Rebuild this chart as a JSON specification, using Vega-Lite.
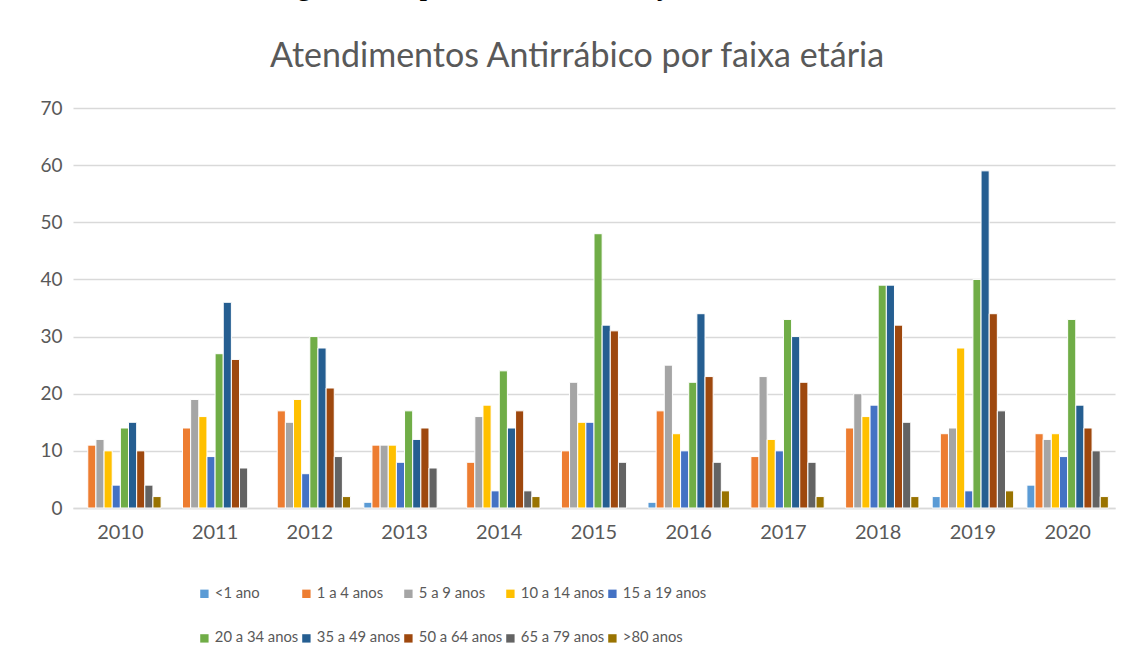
{
  "$schema": "https://vega.github.io/schema/vega-lite/v6.json",
  "width": 1042,
  "height": 400,
  "autosize": {"type": "none"},
  "padding": {"left": 73, "top": 108, "right": 15, "bottom": 157},
  "background": "white",
  "title": {
    "text": "Jaguariaíva por ano de notificação e Faixa Etária.",
    "subtitle": "Atendimentos Antirrábico por faixa etária",
    "anchor": "middle",
    "frame": "group",
    "dx": -17,
    "offset": 24,
    "font": "Liberation Serif",
    "fontSize": 31,
    "fontWeight": "normal",
    "color": "#000000",
    "subtitleFont": "Lato",
    "subtitleFontSize": 34,
    "subtitleColor": "#595959",
    "subtitlePadding": 39
  },
  "data": {
    "values": [
      {"ano": "2010", "faixa": "<1 ano", "n": 0}, {"ano": "2010", "faixa": "1 a 4 anos", "n": 11}, {"ano": "2010", "faixa": "5 a 9 anos", "n": 12}, {"ano": "2010", "faixa": "10 a 14 anos", "n": 10}, {"ano": "2010", "faixa": "15 a 19 anos", "n": 4}, {"ano": "2010", "faixa": "20 a 34 anos", "n": 14}, {"ano": "2010", "faixa": "35 a 49 anos", "n": 15}, {"ano": "2010", "faixa": "50 a 64 anos", "n": 10}, {"ano": "2010", "faixa": "65 a 79 anos", "n": 4}, {"ano": "2010", "faixa": ">80 anos", "n": 2},
      {"ano": "2011", "faixa": "<1 ano", "n": 0}, {"ano": "2011", "faixa": "1 a 4 anos", "n": 14}, {"ano": "2011", "faixa": "5 a 9 anos", "n": 19}, {"ano": "2011", "faixa": "10 a 14 anos", "n": 16}, {"ano": "2011", "faixa": "15 a 19 anos", "n": 9}, {"ano": "2011", "faixa": "20 a 34 anos", "n": 27}, {"ano": "2011", "faixa": "35 a 49 anos", "n": 36}, {"ano": "2011", "faixa": "50 a 64 anos", "n": 26}, {"ano": "2011", "faixa": "65 a 79 anos", "n": 7}, {"ano": "2011", "faixa": ">80 anos", "n": 0},
      {"ano": "2012", "faixa": "<1 ano", "n": 0}, {"ano": "2012", "faixa": "1 a 4 anos", "n": 17}, {"ano": "2012", "faixa": "5 a 9 anos", "n": 15}, {"ano": "2012", "faixa": "10 a 14 anos", "n": 19}, {"ano": "2012", "faixa": "15 a 19 anos", "n": 6}, {"ano": "2012", "faixa": "20 a 34 anos", "n": 30}, {"ano": "2012", "faixa": "35 a 49 anos", "n": 28}, {"ano": "2012", "faixa": "50 a 64 anos", "n": 21}, {"ano": "2012", "faixa": "65 a 79 anos", "n": 9}, {"ano": "2012", "faixa": ">80 anos", "n": 2},
      {"ano": "2013", "faixa": "<1 ano", "n": 1}, {"ano": "2013", "faixa": "1 a 4 anos", "n": 11}, {"ano": "2013", "faixa": "5 a 9 anos", "n": 11}, {"ano": "2013", "faixa": "10 a 14 anos", "n": 11}, {"ano": "2013", "faixa": "15 a 19 anos", "n": 8}, {"ano": "2013", "faixa": "20 a 34 anos", "n": 17}, {"ano": "2013", "faixa": "35 a 49 anos", "n": 12}, {"ano": "2013", "faixa": "50 a 64 anos", "n": 14}, {"ano": "2013", "faixa": "65 a 79 anos", "n": 7}, {"ano": "2013", "faixa": ">80 anos", "n": 0},
      {"ano": "2014", "faixa": "<1 ano", "n": 0}, {"ano": "2014", "faixa": "1 a 4 anos", "n": 8}, {"ano": "2014", "faixa": "5 a 9 anos", "n": 16}, {"ano": "2014", "faixa": "10 a 14 anos", "n": 18}, {"ano": "2014", "faixa": "15 a 19 anos", "n": 3}, {"ano": "2014", "faixa": "20 a 34 anos", "n": 24}, {"ano": "2014", "faixa": "35 a 49 anos", "n": 14}, {"ano": "2014", "faixa": "50 a 64 anos", "n": 17}, {"ano": "2014", "faixa": "65 a 79 anos", "n": 3}, {"ano": "2014", "faixa": ">80 anos", "n": 2},
      {"ano": "2015", "faixa": "<1 ano", "n": 0}, {"ano": "2015", "faixa": "1 a 4 anos", "n": 10}, {"ano": "2015", "faixa": "5 a 9 anos", "n": 22}, {"ano": "2015", "faixa": "10 a 14 anos", "n": 15}, {"ano": "2015", "faixa": "15 a 19 anos", "n": 15}, {"ano": "2015", "faixa": "20 a 34 anos", "n": 48}, {"ano": "2015", "faixa": "35 a 49 anos", "n": 32}, {"ano": "2015", "faixa": "50 a 64 anos", "n": 31}, {"ano": "2015", "faixa": "65 a 79 anos", "n": 8}, {"ano": "2015", "faixa": ">80 anos", "n": 0},
      {"ano": "2016", "faixa": "<1 ano", "n": 1}, {"ano": "2016", "faixa": "1 a 4 anos", "n": 17}, {"ano": "2016", "faixa": "5 a 9 anos", "n": 25}, {"ano": "2016", "faixa": "10 a 14 anos", "n": 13}, {"ano": "2016", "faixa": "15 a 19 anos", "n": 10}, {"ano": "2016", "faixa": "20 a 34 anos", "n": 22}, {"ano": "2016", "faixa": "35 a 49 anos", "n": 34}, {"ano": "2016", "faixa": "50 a 64 anos", "n": 23}, {"ano": "2016", "faixa": "65 a 79 anos", "n": 8}, {"ano": "2016", "faixa": ">80 anos", "n": 3},
      {"ano": "2017", "faixa": "<1 ano", "n": 0}, {"ano": "2017", "faixa": "1 a 4 anos", "n": 9}, {"ano": "2017", "faixa": "5 a 9 anos", "n": 23}, {"ano": "2017", "faixa": "10 a 14 anos", "n": 12}, {"ano": "2017", "faixa": "15 a 19 anos", "n": 10}, {"ano": "2017", "faixa": "20 a 34 anos", "n": 33}, {"ano": "2017", "faixa": "35 a 49 anos", "n": 30}, {"ano": "2017", "faixa": "50 a 64 anos", "n": 22}, {"ano": "2017", "faixa": "65 a 79 anos", "n": 8}, {"ano": "2017", "faixa": ">80 anos", "n": 2},
      {"ano": "2018", "faixa": "<1 ano", "n": 0}, {"ano": "2018", "faixa": "1 a 4 anos", "n": 14}, {"ano": "2018", "faixa": "5 a 9 anos", "n": 20}, {"ano": "2018", "faixa": "10 a 14 anos", "n": 16}, {"ano": "2018", "faixa": "15 a 19 anos", "n": 18}, {"ano": "2018", "faixa": "20 a 34 anos", "n": 39}, {"ano": "2018", "faixa": "35 a 49 anos", "n": 39}, {"ano": "2018", "faixa": "50 a 64 anos", "n": 32}, {"ano": "2018", "faixa": "65 a 79 anos", "n": 15}, {"ano": "2018", "faixa": ">80 anos", "n": 2},
      {"ano": "2019", "faixa": "<1 ano", "n": 2}, {"ano": "2019", "faixa": "1 a 4 anos", "n": 13}, {"ano": "2019", "faixa": "5 a 9 anos", "n": 14}, {"ano": "2019", "faixa": "10 a 14 anos", "n": 28}, {"ano": "2019", "faixa": "15 a 19 anos", "n": 3}, {"ano": "2019", "faixa": "20 a 34 anos", "n": 40}, {"ano": "2019", "faixa": "35 a 49 anos", "n": 59}, {"ano": "2019", "faixa": "50 a 64 anos", "n": 34}, {"ano": "2019", "faixa": "65 a 79 anos", "n": 17}, {"ano": "2019", "faixa": ">80 anos", "n": 3},
      {"ano": "2020", "faixa": "<1 ano", "n": 4}, {"ano": "2020", "faixa": "1 a 4 anos", "n": 13}, {"ano": "2020", "faixa": "5 a 9 anos", "n": 12}, {"ano": "2020", "faixa": "10 a 14 anos", "n": 13}, {"ano": "2020", "faixa": "15 a 19 anos", "n": 9}, {"ano": "2020", "faixa": "20 a 34 anos", "n": 33}, {"ano": "2020", "faixa": "35 a 49 anos", "n": 18}, {"ano": "2020", "faixa": "50 a 64 anos", "n": 14}, {"ano": "2020", "faixa": "65 a 79 anos", "n": 10}, {"ano": "2020", "faixa": ">80 anos", "n": 2}
    ]
  },
  "transform": [{"filter": "datum.n > 0"}],
  "mark": {"type": "bar", "stroke": "white", "strokeWidth": 1},
  "encoding": {
    "x": {
      "field": "ano",
      "type": "nominal",
      "scale": {"paddingInner": 0.14, "paddingOuter": 0.07},
      "axis": {
        "title": null,
        "labelAngle": 0,
        "labelFont": "Lato",
        "labelFontSize": 20,
        "labelColor": "#595959",
        "labelPadding": 14,
        "ticks": false,
        "domainColor": "#D9D9D9",
        "domainWidth": 1.5
      }
    },
    "xOffset": {
      "field": "faixa",
      "type": "nominal",
      "sort": ["<1 ano", "1 a 4 anos", "5 a 9 anos", "10 a 14 anos", "15 a 19 anos", "20 a 34 anos", "35 a 49 anos", "50 a 64 anos", "65 a 79 anos", ">80 anos"],
      "scale": {"paddingInner": 0, "paddingOuter": 0}
    },
    "y": {
      "field": "n",
      "type": "quantitative",
      "scale": {"domain": [0, 70], "nice": false},
      "axis": {
        "title": null,
        "values": [0, 10, 20, 30, 40, 50, 60, 70],
        "domain": false,
        "ticks": false,
        "labelFont": "Lato",
        "labelFontSize": 19,
        "labelColor": "#595959",
        "labelPadding": 11,
        "gridColor": "#D9D9D9",
        "gridWidth": 1.5
      }
    },
    "color": {
      "field": "faixa",
      "type": "nominal",
      "scale": {
        "domain": ["<1 ano", "1 a 4 anos", "5 a 9 anos", "10 a 14 anos", "15 a 19 anos", "20 a 34 anos", "35 a 49 anos", "50 a 64 anos", "65 a 79 anos", ">80 anos"],
        "range": ["#5B9BD5", "#ED7D31", "#A5A5A5", "#FFC000", "#4472C4", "#70AD47", "#255E91", "#9E480E", "#636363", "#997300"]
      },
      "legend": {
        "title": null,
        "orient": "none",
        "legendX": 124,
        "legendY": 478,
        "direction": "horizontal",
        "columns": 5,
        "symbolType": "square",
        "symbolSize": 70,
        "symbolStrokeWidth": 0,
        "labelFont": "Lato",
        "labelFontSize": 14.8,
        "labelColor": "#595959",
        "labelOffset": 3,
        "columnPadding": -6,
        "rowPadding": 29
      }
    }
  },
  "config": {"view": {"stroke": null}}
}
